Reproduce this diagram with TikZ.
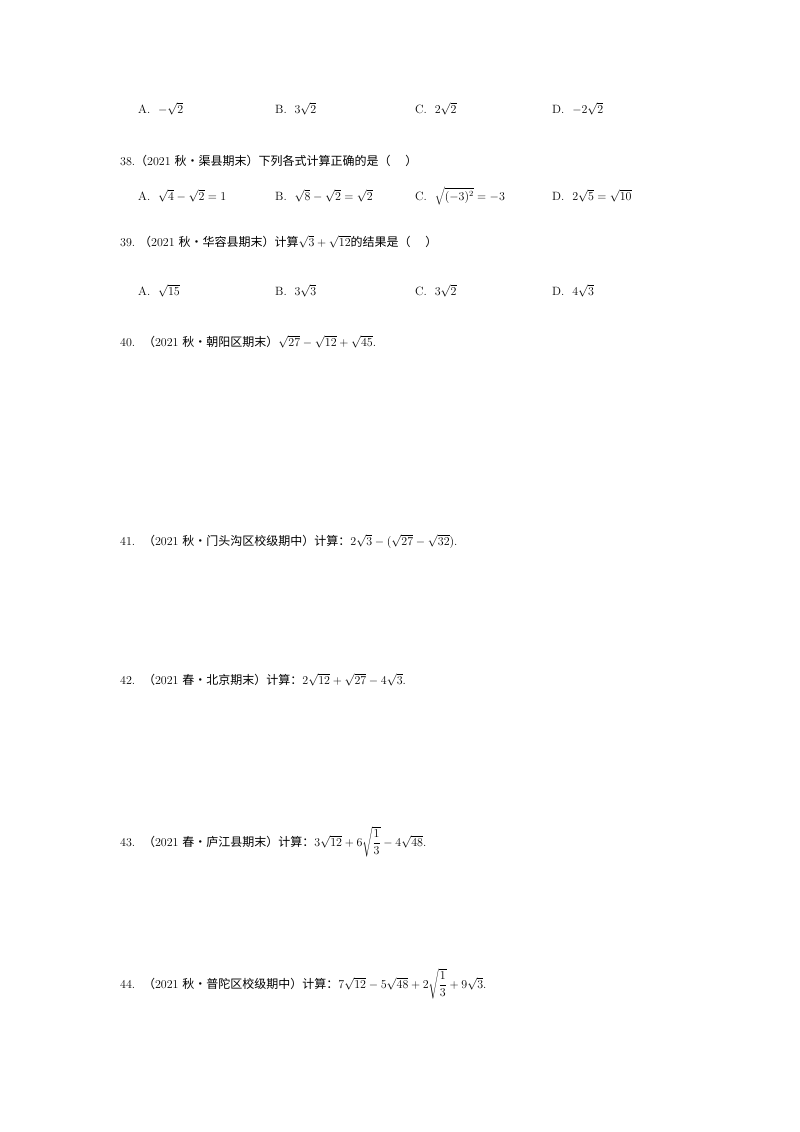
\documentclass[tikz,border=0pt]{standalone}
\usepackage{fontspec}
\newfontfamily\cjk{Noto Sans CJK SC}
\begin{document}
\begin{tikzpicture}[x=1pt,y=-1pt,every node/.style={anchor=base west,inner sep=0pt,font=\fontsize{12}{14}\selectfont}]
\useasboundingbox[fill=white] (0,0) rectangle (800,1132);
\node (a37) at (138,113) {A.\ \ $-\sqrt{2}$};
\node (b37) at (275,113) {B.\ \ $3\sqrt{2}$};
\node (c37) at (415,113) {C.\ \ $2\sqrt{2}$};
\node (d37) at (552,113) {D.\ \ $-2\sqrt{2}$};
\node (q38) at (120,165) {38.{\cjk（}2021 {\cjk 秋•渠县期末）下列各式计算正确的是（\quad\ ）}};
\node (a38) at (138,200) {A.\ \ $\sqrt{4}-\sqrt{2}=1$};
\node (b38) at (275,200) {B.\ \ $\sqrt{8}-\sqrt{2}=\sqrt{2}$};
\node (c38) at (415,200) {C.\ \ $\sqrt{(-3)^2}=-3$};
\node (d38) at (552,200) {D.\ \ $2\sqrt{5}=\sqrt{10}$};
\node (q39) at (120,246) {39.\ {\cjk（}2021 {\cjk 秋•华容县期末）计算}$\sqrt{3}+\sqrt{12}${\cjk 的结果是（\quad\ ）}};
\node (a39) at (138,295) {A.\ \ $\sqrt{15}$};
\node (b39) at (275,295) {B.\ \ $3\sqrt{3}$};
\node (c39) at (415,295) {C.\ \ $3\sqrt{2}$};
\node (d39) at (552,295) {D.\ \ $4\sqrt{3}$};
\node (q40) at (120,346) {40.\ \ {\cjk（}2021 {\cjk 秋•朝阳区期末）}$\sqrt{27}-\sqrt{12}+\sqrt{45}$.};
\node (q41) at (120,545) {41.\ \ {\cjk（}2021 {\cjk 秋•门头沟区校级期中）计算：}$2\sqrt{3}-(\sqrt{27}-\sqrt{32})$.};
\node (q42) at (120,684) {42.\ \ {\cjk（}2021 {\cjk 春•北京期末）计算：}$2\sqrt{12}+\sqrt{27}-4\sqrt{3}$.};
\node (q43) at (120,846) {43.\ \ {\cjk（}2021 {\cjk 春•庐江县期末）计算：}$3\sqrt{12}+6\sqrt{\displaystyle\frac{1}{3}}-4\sqrt{48}$.};
\node (q44) at (120,988) {44.\ \ {\cjk（}2021 {\cjk 秋•普陀区校级期中）计算：}$7\sqrt{12}-5\sqrt{48}+2\sqrt{\displaystyle\frac{1}{3}}+9\sqrt{3}$.};
\end{tikzpicture}
\end{document}
